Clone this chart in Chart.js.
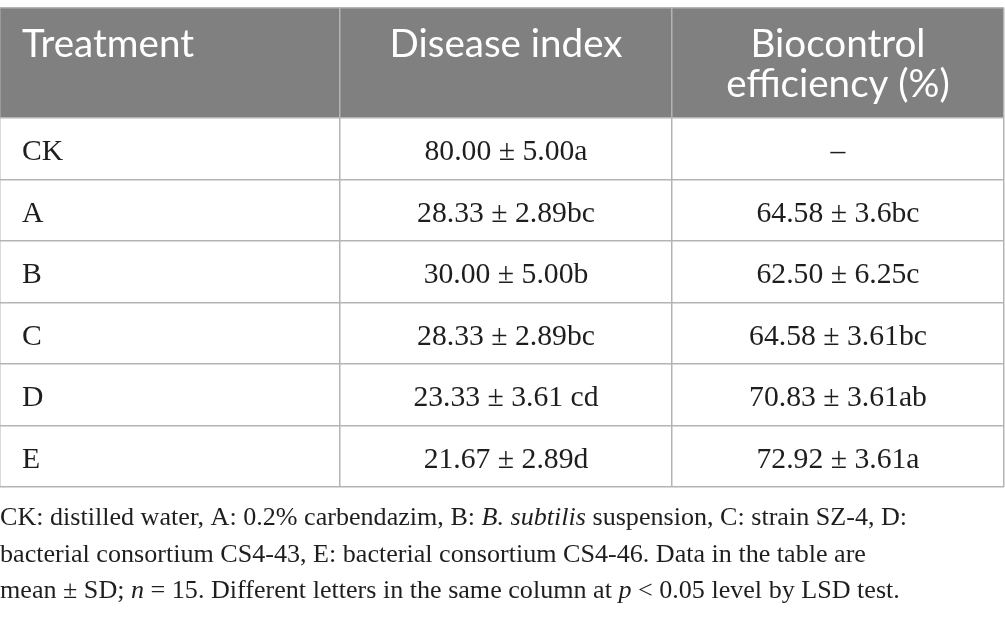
<!DOCTYPE html>
<html>
<head>
<meta charset="utf-8">
<script src="https://cdn.jsdelivr.net/npm/chart.js@4.4.0/dist/chart.umd.min.js"></script>
<style>
html,body{margin:0;padding:0;background:#fff;}
#wrap{width:1005px;height:618px;position:relative;overflow:hidden;}
</style>
</head>
<body>
<div id="wrap"><canvas id="c" width="1005" height="618"></canvas></div>
<script>
// ---------------- data ----------------
const treatments = ['CK', 'A', 'B', 'C', 'D', 'E'];
const diseaseIndex = ['80.00 ± 5.00a', '28.33 ± 2.89bc', '30.00 ± 5.00b', '28.33 ± 2.89bc', '23.33 ± 3.61 cd', '21.67 ± 2.89d'];
const biocontrolEfficiency = ['–', '64.58 ± 3.6bc', '62.50 ± 6.25c', '64.58 ± 3.61bc', '70.83 ± 3.61ab', '72.92 ± 3.61a'];
const columnHeaders = [['Treatment'], ['Disease index'], ['Biocontrol', 'efficiency (%)']];
const footnoteLines = [
  [['CK: distilled water, A: 0.2% carbendazim, B: ', false], ['B. subtilis', true], [' suspension, C: strain SZ-4, D:', false]],
  [['bacterial consortium CS4-43, E: bacterial consortium CS4-46. Data in the table are', false]],
  [['mean ± SD; ', false], ['n', true], [' = 15. Different letters in the same column at ', false], ['p', true], [' < 0.05 level by LSD test.', false]]
];

// ---------------- layout / style ----------------
const HEAD_FONT = 'Lato';
const BODY_FONT = '"Liberation Serif"';
const HEADER_UNITS = 110 / 61.5;                 // header row height in body-row units
const colEdges = [0, 1.0241, 2.0241, 3.0241];    // column boundaries (column units)
const rowEdges = [0];
for (let i = 0; i <= treatments.length; i++) rowEdges.push(HEADER_UNITS + i);
const STYLE = {
  headerFill: '#808080', gridColor: '#b4b4b4', gridWidth: 1.5,
  headText: '#ffffff', bodyText: '#1e1e1e',
  padLeft: 22, headBase: 49, headGap: 40, bodyBaseOff: 11.5,
  footBase: [525, 561.5, 598], footX: 0
};

function measure(font, text) {
  const c = document.createElement('canvas').getContext('2d');
  c.font = font; return c.measureText(text).width;
}
let headSize, bodySize, footSize;
function calibrate() {
  headSize = 100 * 233 / measure('100px ' + HEAD_FONT, 'Disease index');
  bodySize = 100 * 163 / measure('100px ' + BODY_FONT, '80.00 ± 5.00a');
  let w = 0;
  footnoteLines[2].forEach(([t, it]) => { w += measure((it ? 'italic ' : '') + '100px ' + BODY_FONT, t); });
  footSize = 100 * 900 / w;
}

const tablePlugin = {
  id: 'tableCells',
  beforeDraw(chart) {
    const { ctx } = chart, xs = chart.scales.x, ys = chart.scales.y;
    ctx.save();
    ctx.fillStyle = '#ffffff';
    ctx.fillRect(0, 0, chart.width, chart.height);
    const x0 = xs.getPixelForValue(colEdges[0]), x1 = xs.getPixelForValue(colEdges[colEdges.length - 1]);
    const y0 = ys.getPixelForValue(rowEdges[0]), y1 = ys.getPixelForValue(rowEdges[1]);
    ctx.fillStyle = STYLE.headerFill;
    ctx.fillRect(x0, y0, x1 - x0, y1 - y0);
    ctx.restore();
  },
  afterDraw(chart) {
    const { ctx } = chart, xs = chart.scales.x, ys = chart.scales.y;
    const colCenter = c => (xs.getPixelForValue(colEdges[c]) + xs.getPixelForValue(colEdges[c + 1])) / 2;
    const colLeft = c => xs.getPixelForValue(colEdges[c]);
    ctx.save();
    ctx.textBaseline = 'alphabetic';
    // header
    ctx.fillStyle = STYLE.headText;
    ctx.font = headSize.toFixed(2) + 'px ' + HEAD_FONT;
    const hTop = ys.getPixelForValue(rowEdges[0]);
    columnHeaders.forEach((lines, c) => {
      lines.forEach((line, li) => {
        const y = hTop + STYLE.headBase + li * STYLE.headGap;
        if (c === 0) { ctx.textAlign = 'left'; ctx.fillText(line, colLeft(c) + STYLE.padLeft, y); }
        else { ctx.textAlign = 'center'; ctx.fillText(line, colCenter(c), y); }
      });
    });
    // body
    ctx.fillStyle = STYLE.bodyText;
    ctx.font = bodySize.toFixed(2) + 'px ' + BODY_FONT;
    treatments.forEach((t, r) => {
      const yc = (ys.getPixelForValue(rowEdges[r + 1]) + ys.getPixelForValue(rowEdges[r + 2])) / 2;
      const y = yc + STYLE.bodyBaseOff;
      ctx.textAlign = 'left';
      ctx.fillText(t, colLeft(0) + STYLE.padLeft, y);
      ctx.textAlign = 'center';
      ctx.fillText(diseaseIndex[r], colCenter(1), y);
      ctx.fillText(biocontrolEfficiency[r], colCenter(2), y);
    });
    // footnote
    ctx.textAlign = 'left';
    footnoteLines.forEach((runs, i) => {
      let x = STYLE.footX;
      runs.forEach(([text, italic]) => {
        ctx.font = (italic ? 'italic ' : '') + footSize.toFixed(2) + 'px ' + BODY_FONT;
        ctx.fillText(text, x, STYLE.footBase[i]);
        x += ctx.measureText(text).width;
      });
    });
    ctx.restore();
  }
};

function build() {
  calibrate();
  const axisCommon = {
    type: 'linear',
    display: true,
    grid: { display: true, drawOnChartArea: true, drawTicks: false, color: STYLE.gridColor, lineWidth: STYLE.gridWidth },
    border: { display: false },
    ticks: { display: false }
  };
  new Chart(document.getElementById('c'), {
    type: 'scatter',
    data: { datasets: [{ data: [], showLine: false }] },
    options: {
      responsive: false,
      animation: false,
      devicePixelRatio: 1,
      events: [],
      layout: { padding: { top: 8, bottom: 618 - 487, left: 0, right: 1 } },
      plugins: { legend: { display: false }, tooltip: { enabled: false }, title: { display: false } },
      scales: {
        x: Object.assign({}, axisCommon, {
          min: colEdges[0], max: colEdges[colEdges.length - 1],
          afterBuildTicks: s => { s.ticks = colEdges.map(v => ({ value: v })); }
        }),
        y: Object.assign({}, axisCommon, {
          min: rowEdges[0], max: rowEdges[rowEdges.length - 1], reverse: true,
          afterBuildTicks: s => { s.ticks = rowEdges.map(v => ({ value: v })); }
        })
      }
    },
    plugins: [tablePlugin]
  });
}

const loads = document.fonts ? Promise.all([
  document.fonts.load('30px ' + HEAD_FONT),
  document.fonts.load('30px ' + BODY_FONT),
  document.fonts.load('italic 30px ' + BODY_FONT)
]).catch(() => {}) : Promise.resolve();
loads.then(build, build);
</script>
</body>
</html>
